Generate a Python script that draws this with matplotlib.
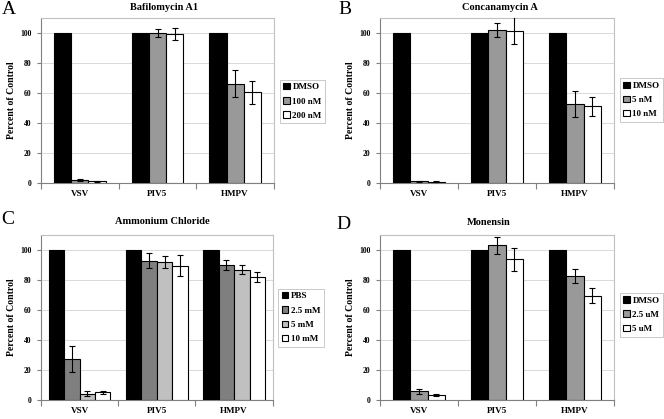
import numpy as np
import matplotlib
matplotlib.use("Agg")
import matplotlib.pyplot as plt
from matplotlib.ticker import FixedLocator

plt.rcParams["font.family"] = ["Liberation Serif", "DejaVu Serif"]

viruses = ["VSV", "PIV5", "HMPV"]

# A: Bafilomycin A1
baf_labels = ["DMSO", "100 nM", "200 nM"]
baf_vals = [[100, 100, 100], [2.0, 100.0, 66.3], [1.1, 99.3, 60.5]]
baf_errs = [[0, 0, 0], [0.7, 2.9, 9.3], [0.4, 4.2, 7.6]]

# B: Concanamycin A
con_labels = ["DMSO", "5 nM", "10 nM"]
con_vals = [[100, 100, 100], [1.2, 102.2, 52.7], [1.0, 101.3, 51.1]]
con_errs = [[0, 0, 0], [0.3, 4.7, 8.8], [0.3, 9.0, 6.2]]

# C: Ammonium Chloride
amm_labels = ["PBS", "2.5 mM", "5 mM", "10 mM"]
amm_vals = [[100, 100, 100], [27.5, 93.0, 90.3], [4.4, 92.1, 87.0], [5.1, 89.4, 81.9]]
amm_errs = [[0, 0, 0], [8.5, 5.0, 3.3], [1.4, 4.0, 3.0], [1.0, 7.0, 3.2]]

# D: Monensin
mon_labels = ["DMSO", "2.5 uM", "5 uM"]
mon_vals = [[100, 100, 100], [5.8, 103.3, 83.0], [3.3, 94.0, 69.7]]
mon_errs = [[0, 0, 0], [1.8, 5.7, 4.7], [0.8, 7.7, 4.8]]

colors3 = ["black", "#999999", "white"]
colors4 = ["black", "#7f7f7f", "#c0c0c0", "white"]


def draw_panel(ax, labels, vals, errs, colors, width, legend_y):
    x = np.arange(len(viruses))
    n = len(labels)
    for i in range(n):
        offs = (i - (n - 1) / 2) * width
        ax.bar(x + offs, vals[i], width, color=colors[i], edgecolor="black",
               linewidth=0.8, label=labels[i], zorder=3)
        if i > 0:
            ax.errorbar(x + offs, vals[i], yerr=errs[i], fmt="none",
                        ecolor="black", elinewidth=0.8, capsize=2.2,
                        capthick=0.8, zorder=4)
    ax.set_xlim(-0.5, 2.5)
    ax.set_ylim(0, 110)
    ax.set_yticks([0, 20, 40, 60, 80, 100])
    ax.yaxis.grid(True, color="#d9d9d9", linewidth=0.7, zorder=0)
    ax.set_axisbelow(True)
    ax.xaxis.set_major_locator(FixedLocator([-0.5, 0.5, 1.5, 2.5]))
    ax.xaxis.set_minor_locator(FixedLocator(x))
    ax.set_xticklabels([], minor=False)
    ax.set_xticklabels(viruses, minor=True, fontsize=6.6, fontweight="bold")
    ax.tick_params(axis="x", which="major", length=4, color="#808080")
    ax.tick_params(axis="x", which="minor", length=0, pad=5)
    ax.tick_params(axis="y", length=3, color="#808080", labelsize=5.5, pad=4)
    for t in ax.get_yticklabels():
        t.set_fontweight("bold")
    for s in ["top", "right"]:
        ax.spines[s].set_color("#c0c0c0")
    for s in ["left", "bottom"]:
        ax.spines[s].set_color("#808080")
    for s in ax.spines.values():
        s.set_linewidth(0.8)
    ax.set_ylabel("Percent of Control", fontsize=7, fontweight="bold", labelpad=3)
    leg = ax.legend(loc="center left", bbox_to_anchor=(1.025, legend_y),
                    prop={"size": 6.5, "weight": "bold"}, frameon=True,
                    fancybox=False, edgecolor="#b0b0b0", handlelength=0.7,
                    handleheight=0.7, handletextpad=0.3, labelspacing=0.65,
                    borderpad=0.4, borderaxespad=0)
    leg.get_frame().set_linewidth(0.6)


fig = plt.figure(figsize=(6.64, 4.19), dpi=100)
ax_a = fig.add_axes([0.0617, 0.5632, 0.351, 0.394])
ax_b = fig.add_axes([0.5723, 0.5632, 0.3524, 0.394])
ax_c = fig.add_axes([0.0617, 0.045, 0.349, 0.394])
ax_d = fig.add_axes([0.5723, 0.045, 0.3524, 0.394])

draw_panel(ax_a, baf_labels, baf_vals, baf_errs, colors3, 0.222, 0.494)
draw_panel(ax_b, con_labels, con_vals, con_errs, colors3, 0.222, 0.503)
draw_panel(ax_c, amm_labels, amm_vals, amm_errs, colors4, 0.2, 0.5)
draw_panel(ax_d, mon_labels, mon_vals, mon_errs, colors3, 0.222, 0.518)

W, H = 664, 419
titles = [("Bafilomycin A1", 164, 7), ("Concanamycin A", 500, 7),
          ("Ammonium Chloride", 162, 221), ("Monensin", 489, 222)]
for txt, px, py in titles:
    fig.text(px / W, 1 - py / H, txt, ha="center", va="center",
             fontsize=7.5, fontweight="bold")

letters = [("A", 2, 9), ("B", 338, 9), ("C", 1, 219), ("D", 336, 224)]
for txt, px, py in letters:
    fig.text(px / W, 1 - py / H, txt, ha="left", va="center", fontsize=14)

fig.savefig("out.png", dpi=100)
